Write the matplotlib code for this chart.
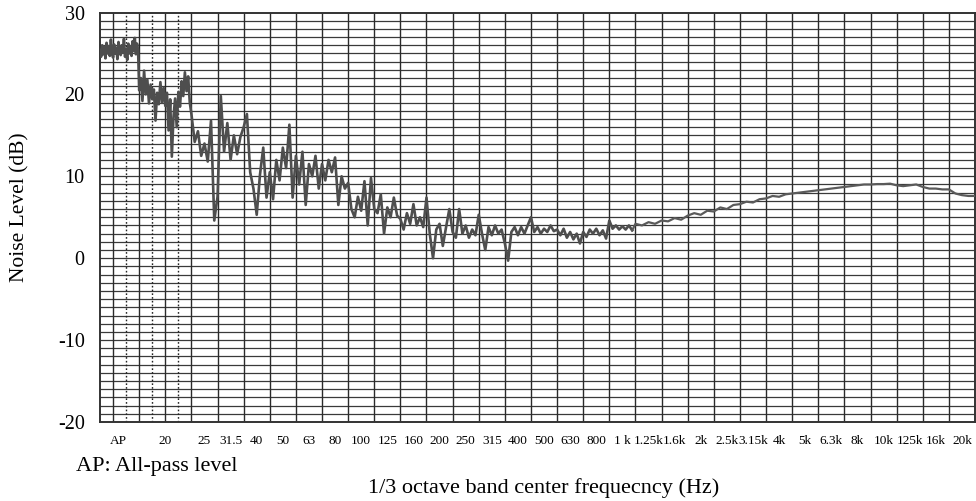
import numpy as np
import matplotlib.pyplot as plt

plt.rcParams['font.family'] = ['Liberation Serif', 'DejaVu Serif']
plt.rcParams['axes.unicode_minus'] = False

# 1/3 octave bands, one grid cell each (cell i spans i .. i+1)
band_labels = ["25", "31.5", "40", "50", "63", "80", "100", "125", "160",
               "200", "250", "315", "400", "500", "630", "800", "1 k",
               "1.25k", "1.6k", "2k", "2.5k", "3.15k", "4k", "5k", "6.3k",
               "8k", "10k", "125k", "16k", "20k"]
extra_labels = ["AP", "20"]
extra_pos = [-2.78, -1.0]

# measured noise level (dB); each piece: start position, sample step, values
ap_start, ap_step = -3.5, 1 / 24
level_ap = [
    25.4, 24.6, 26.0, 24.9, 25.8, 24.4, 26.3, 25.0, 25.9, 24.7, 26.7, 25.2,
    24.5, 26.1, 25.0, 25.7, 24.3, 26.4, 25.3, 24.8, 26.0, 25.1, 26.8, 24.6,
    25.5, 24.2, 26.2, 25.0, 25.9, 24.7, 26.5, 25.3, 26.9, 24.9, 26.2, 25.4,
]

b20_start, b20_step = -2.0, 1 / 16
level_20 = [
    20.5, 22.0, 19.2, 22.9, 20.0, 21.8, 18.9, 21.2,
    19.4, 20.6, 16.8, 20.2, 18.8, 21.5, 19.0, 20.8,
    18.6, 20.2, 15.6, 19.4, 12.4, 17.2, 19.5, 16.0,
    20.3, 18.5, 21.6, 19.8, 22.7, 20.4, 22.2, 19.0,
]

low_start, low_step = 0.0, 1 / 8
level_low = [
    17.6, 14.2, 15.5, 12.5, 14.0, 11.8, 16.8, 4.6,
    7.5, 19.8, 13.0, 16.5, 12.0, 15.0, 12.7, 14.8,
    16.0, 17.6, 10.5, 8.5, 5.3, 10.2, 13.5, 7.4,
    10.5, 7.2, 12.0, 9.5, 13.5, 11.0, 16.3, 7.4,
    12.5, 9.0, 13.0, 6.5, 11.5, 10.0, 12.5, 8.5,
    11.5, 9.5, 12.0, 10.5, 12.3, 6.5, 10.0, 8.5,
    9.2, 6.0, 5.0, 7.5, 5.8, 9.4, 4.0, 9.8,
    6.0, 5.5, 7.8, 3.0, 6.2, 5.0, 7.4, 5.2,
    4.8, 3.5, 5.5, 4.2, 6.6, 4.0, 5.0, 3.8,
    7.4, 3.0, 0.0, 3.5, 4.2, 1.5, 3.8, 6.0,
    3.2, 2.5, 6.0, 3.0, 4.0, 2.5, 3.5, 2.8,
    5.3, 3.0, 1.0, 3.8, 2.8, 4.0, 3.0, 3.5,
    1.8, -0.3, 3.2, 3.8, 2.8, 3.8, 3.0, 4.0,
    5.0, 3.2, 3.8, 3.0, 3.6, 3.2, 4.0, 3.3,
    3.5, 2.8, 3.6, 2.5, 3.2, 2.3, 3.0, 1.8,
    3.2, 2.6, 3.5, 3.0, 3.6, 2.8, 3.4, 2.4,
    4.6, 3.6, 4.0, 3.5, 3.9, 3.5, 4.0, 3.4,
]

high_start, high_step = 17.0, 1 / 4
level_high = [
    4.2, 4.0, 4.4, 4.2,
    4.6, 4.5, 4.9, 4.7,
    5.2, 5.5, 5.3, 5.8,
    5.7, 6.2, 6.0, 6.5,
    6.6, 6.9, 6.8, 7.2,
    7.3, 7.6, 7.5, 7.8,
    7.9, 8.0, 8.1, 8.2,
    8.3, 8.4, 8.5, 8.6,
    8.7, 8.8, 8.9, 9.0,
    9.0, 9.05, 9.05, 9.1,
    8.9, 8.8, 8.9, 9.0,
    8.7, 8.5, 8.5, 8.4,
    8.4, 7.9, 7.7, 7.6,
    7.6,
]

pieces = [(ap_start, ap_step, level_ap), (b20_start, b20_step, level_20),
          (low_start, low_step, level_low)]
x_noisy = np.concatenate([s + d * np.arange(len(v)) for s, d, v in pieces])
y_noisy = np.concatenate([v for _, _, v in pieces])
# smooth upper range, joined to the last noisy sample
x_smooth = np.concatenate([x_noisy[-1:],
                           high_start + high_step * np.arange(len(level_high))])
y_smooth = np.concatenate([y_noisy[-1:], level_high])

fig = plt.figure(figsize=(9.76, 5.01), dpi=100)
ax = fig.add_axes([100 / 976, 1 - 422 / 501, 875 / 976, 409.5 / 501])

ax.set_xlim(-3.5, 30)
ax.set_ylim(-20, 30)

# grid: 1 dB rows, one column per band, dotted splits in the low range
for v in range(-19, 30):
    ax.axhline(v, color='#3a3a3a', lw=0.9, zorder=1)
for c in range(-3, 30):
    ax.axvline(c, color='#2a2a2a', lw=1.0, zorder=1)
for c in (-2.5, -1.5, -0.5):
    ax.axvline(c, color='#222222', lw=1.0, ls=(0, (1.2, 1.5)), zorder=1)

ax.plot(x_noisy, y_noisy, color='#4e4e4e', lw=1.9, zorder=3)
ax.plot(x_smooth, y_smooth, color='#5a5a5a', lw=1.6, zorder=3)

for s in ax.spines.values():
    s.set_linewidth(1.4)
    s.set_color('#333333')

ax.set_yticks([-20, -10, 0, 10, 20, 30])
ax.tick_params(axis='y', length=0, pad=11, labelsize=14.5)
ticks = extra_pos + [i + 0.5 for i in range(len(band_labels))]
ax.set_xticks(ticks)
ax.set_xticklabels(extra_labels + band_labels)
ax.tick_params(axis='x', length=0, pad=9, labelsize=9.5)

fig.text(20 / 976, 1 - 207 / 501, 'Noise Level (dB)', fontsize=15.5,
         rotation=90, ha='center', va='center')
fig.text(76 / 976, 1 - 467 / 501, 'AP: All-pass level', fontsize=16,
         ha='left', va='center')
fig.text(544 / 976, 1 - 488 / 501, '1/3 octave band center frequecncy (Hz)',
         fontsize=16, ha='center', va='center')

fig.savefig('out.png', dpi=100)
